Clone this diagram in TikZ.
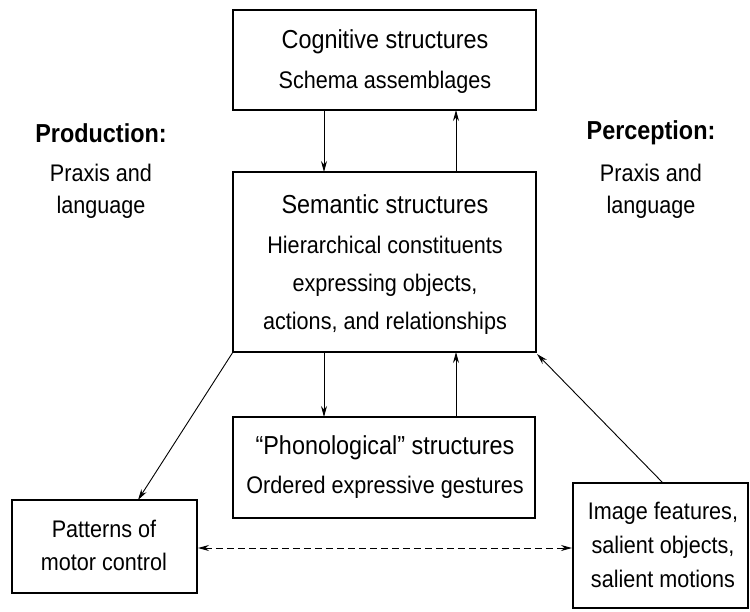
\documentclass[tikz,border=0pt]{standalone}
\usepackage{fontspec}
\setmainfont{Liberation Sans}[FakeStretch=0.9]
\usetikzlibrary{arrows.meta}
\begin{document}
\begin{tikzpicture}[x=1pt,y=-1pt,
  box/.style={draw,line width=1.1pt},
  txt/.style={font=\fontsize{24}{28}\selectfont,inner sep=0pt,anchor=center},
  ttl/.style={font=\fontsize{26}{30}\selectfont,inner sep=0pt,anchor=center},
  hdr/.style={font=\bfseries\fontsize{26}{30}\selectfont,inner sep=0pt,anchor=center},
  tip/.style={Stealth[length=11pt,width=6pt]},
  conn/.style={line width=0.9pt,-{Stealth[length=11pt,width=6pt]}}]
\useasboundingbox (0,0) rectangle (750,611);
% boxes
\draw[box] (233,10) rectangle (536,110);
\draw[box] (233,172) rectangle (536,352);
\draw[box] (233,417) rectangle (535,518);
\draw[box] (12,500) rectangle (197,593);
\draw[box] (573,483) rectangle (748,608);
% texts
\node[ttl] (cog1) at (385,42) {Cognitive structures};
\node[txt] (cog2) at (385,82) {Schema assemblages};
\node[ttl] (sem1) at (385,204) {Semantic structures};
\node[txt] (sem2) at (385,245) {Hierarchical constituents};
\node[txt] (sem3) at (385,285) {expressing objects,};
\node[txt] (sem4) at (385,323) {actions, and relationships};
\node[ttl] (pho1) at (385,448) {``Phonological'' structures};
\node[txt] (pho2) at (385,487) {Ordered expressive gestures};
\node[txt] (pat1) at (104,529) {Patterns of};
\node[txt] (pat2) at (104,562) {motor control};
\node[txt] (img1) at (663,513) {Image features,};
\node[txt] (img2) at (663,547) {salient objects,};
\node[txt] (img3) at (663,579) {salient motions};
\node[hdr] (prod) at (101,133) {Production:};
\node[txt] (prod2) at (101,173) {Praxis and};
\node[txt] (prod3) at (101,207) {language};
\node[hdr] (perc) at (651,133) {Perception:};
\node[txt] (perc2) at (651,173) {Praxis and};
\node[txt] (perc3) at (651,207) {language};
% connector endpoints
\coordinate (a1) at (324,110); \coordinate (a2) at (324,172);
\coordinate (b1) at (456,172); \coordinate (b2) at (456,110);
\coordinate (c1) at (324,352); \coordinate (c2) at (324,417);
\coordinate (d1) at (456,417); \coordinate (d2) at (456,352);
\coordinate (e1) at (233,352); \coordinate (e2) at (138,500);
\coordinate (f1) at (663,483); \coordinate (f2) at (537,354);
\coordinate (g1) at (198,548); \coordinate (g2) at (572,548);
\draw[conn] (a1) -- (a2);
\draw[conn] (b1) -- (b2);
\draw[conn] (c1) -- (c2);
\draw[conn] (d1) -- (d2);
\draw[conn] (e1) -- (e2);
\draw[conn] (f1) -- (f2);
\draw[line width=1pt,dash pattern=on 7pt off 4pt,{Stealth[length=11pt,width=6pt]}-{Stealth[length=11pt,width=6pt]}] (g1) -- (g2);
\end{tikzpicture}
\end{document}
